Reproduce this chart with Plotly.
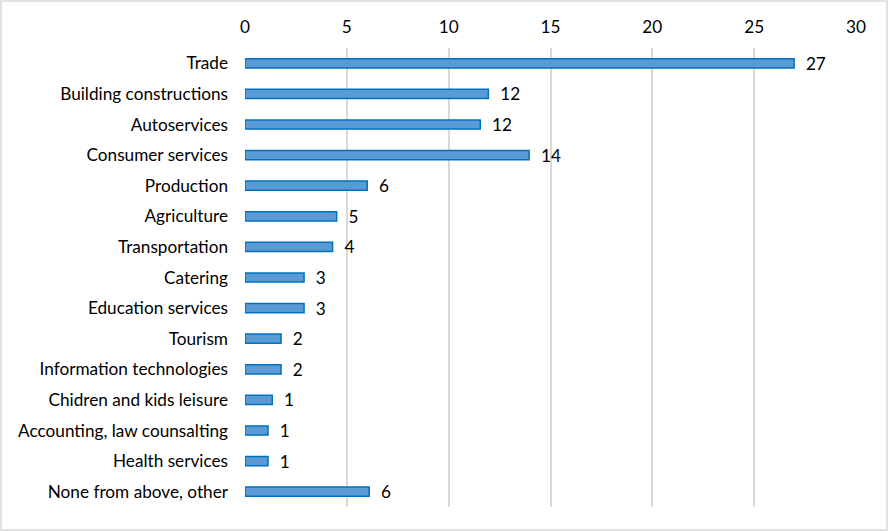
import plotly.graph_objects as go

categories = ["Trade", "Building constructions", "Autoservices", "Consumer services",
              "Production", "Agriculture", "Transportation", "Catering",
              "Education services", "Tourism", "Information technologies",
              "Chidren and kids leisure", "Accounting, law counsalting",
              "Health services", "None from above, other"]
values = [26.96, 11.95, 11.55, 13.95, 6.0, 4.5, 4.3, 2.9, 2.9, 1.77, 1.77, 1.34, 1.13, 1.13, 6.1]
labels = ["27", "12", "12", "14", "6", "5", "4", "3", "3", "2", "2", "1", "1", "1", "6"]
x_ticks = [0, 5, 10, 15, 20, 25, 30]

FONT = "Lato, Calibri, Carlito, sans-serif"
FS = 17.2

fig = go.Figure(go.Bar(
    x=values, y=categories, orientation="h",
    text=["  " + t for t in labels], textposition="outside", cliponaxis=False,
    constraintext="none",
    textfont=dict(family=FONT, size=FS, color="#000000"),
    marker=dict(color="#5B9BD5", line=dict(color="#0070C0", width=1.5)),
    width=0.3,
))

fig.update_layout(
    width=888, height=531,
    margin=dict(l=245, r=32, t=48, b=24),
    paper_bgcolor="white", plot_bgcolor="white",
    showlegend=False,
    font=dict(family=FONT, size=FS, color="#000000"),
    xaxis=dict(side="top", range=[0, 30], tickvals=x_ticks,
               showgrid=True, gridcolor="#D9D9D9", gridwidth=1.5,
               zeroline=False, showline=False, ticks="", ticklabelstandoff=11,
               tickfont=dict(family=FONT, size=FS, color="#000000")),
    yaxis=dict(autorange="reversed", showgrid=False, zeroline=False,
               showline=False, ticks="", ticklabelstandoff=16,
               tickfont=dict(family=FONT, size=FS, color="#000000")),
    shapes=[dict(type="rect", xref="paper", yref="paper",
                 x0=(1 - 245) / 611, x1=(887 - 245) / 611,
                 y0=-23 / 459, y1=1 + 47 / 459,
                 line=dict(color="#D9D9D9", width=1.5), fillcolor="rgba(0,0,0,0)",
                 layer="below")],
)

fig.write_html("out.html", config={"displayModeBar": False},
               post_script="document.body.style.margin='0';")
